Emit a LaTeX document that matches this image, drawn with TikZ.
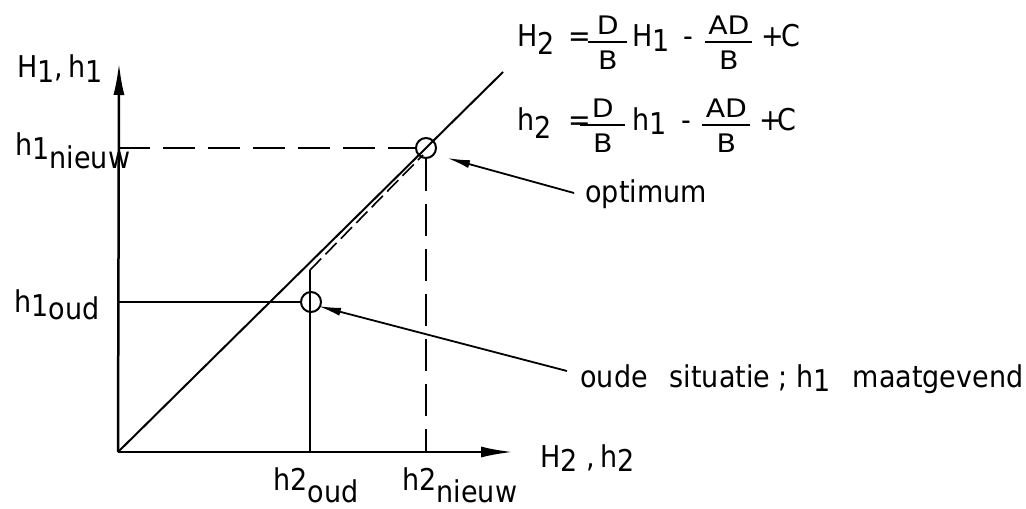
\documentclass[tikz,border=0pt]{standalone}
\usepackage{graphicx}
\usepackage{fontspec}
\setmainfont{DejaVu Sans}[FakeStretch=0.9]
\usetikzlibrary{arrows.meta}
\newcommand\lo[1]{\raisebox{-2pt}{#1}}
\newcommand\at[2]{\makebox[0pt][l]{\hspace*{#1}#2}}
% fraction: #1 bar width, #2 numerator, #3 denominator
\newcommand\fr[3]{\makebox[0pt][l]{%
  \raisebox{6pt}{\makebox[#1][c]{\scalebox{1.05}[0.85]{#2}}}}%
  \makebox[0pt][l]{\raisebox{2.2pt}{\rule{#1}{0.6pt}}}%
  \raisebox{-11pt}{\makebox[#1][c]{\scalebox{1.05}[0.85]{#3}}}}
\begin{document}
\begin{tikzpicture}[x=0.5pt,y=-0.5pt,
  lbl/.style={inner sep=0pt, anchor=base west, font=\fontsize{15}{18}\selectfont},
  axis/.style={line width=1.25pt, -{Latex[length=16pt,width=5.5pt]}},
  thinl/.style={line width=1pt},
  dsh/.style={line width=1pt, dash pattern=on 16pt off 6.5pt},
  dshs/.style={line width=0.8pt, dash pattern=on 8pt off 3pt},
  lead/.style={line width=0.9pt, -{Latex[length=11.5pt,width=4pt]}},
  ptc/.style={circle, draw, line width=1pt, minimum size=10pt, inner sep=0pt}]
\useasboundingbox (0,0) rectangle (1026,508);
\coordinate (O) at (118,452);
\coordinate (Ytip) at (119,63);
\coordinate (Xtip) at (513,452);
\coordinate (Dend) at (503,72);
\node[ptc] (opt) at (426,148) {};
\node[ptc] (old) at (311,302) {};
\coordinate (Yn) at (118,148);
\coordinate (Yo) at (118,302);
\coordinate (Xn) at (426,452);
\coordinate (Xo) at (310,452);
\coordinate (Xotop) at (310,270);
\coordinate (Dtop) at (423,155);
\coordinate (optL) at (574,193);
\coordinate (optT) at (447,158);
\coordinate (oldL) at (567,371);
\coordinate (oldT) at (318,306);
% axes and main line
\draw[axis] (O) -- (Ytip);
\draw[axis] (O) -- (Xtip);
\draw[thinl] (O) -- (Dend);
% dashed construction lines
\draw[dsh] (Yn) -- (opt.west);
\draw[dsh] (opt.south) -- (Xn);
\draw[dshs] (Xotop) -- (Dtop);
% old situation lines
\draw[thinl] (Yo) -- (old.west);
\draw[thinl] (Xo) -- (Xotop);
% leaders
\draw[lead] (optL) -- (optT);
\draw[lead] (oldL) -- (oldT);
% labels
\node[lbl] (yl) at (17,78) {H\lo{1},\,h\lo{1}};
\node[lbl] (h1n) at (15,155) {h\lo{1}\raisebox{-6.5pt}{nieuw}};
\node[lbl] (h1o) at (14,312) {h\lo{1}\raisebox{-3.5pt}{oud}};
\node[lbl] (h2o) at (273,490) {h2\raisebox{-6pt}{oud}};
\node[lbl] (h2n) at (402,490) {h2\raisebox{-6pt}{nieuw}};
\node[lbl] (xl) at (540,467) {H\lo{2} ,\,h\lo{2}};
\node[lbl] (eq1) at (517,47) {\at{0pt}{H\raisebox{-4pt}{2}}\at{25.5pt}{=}\at{35.5pt}{\fr{19.5pt}{D}{B}}\at{57.5pt}{H\lo{1}}\at{83pt}{-}\at{94pt}{\fr{23.5pt}{AD}{B}}\at{122pt}{+}\at{132pt}{C}\hspace*{141pt}};
\node[lbl] (eq2) at (517,130) {\at{0pt}{h\raisebox{-4pt}{2}}\at{25.5pt}{=}\at{31.5pt}{\fr{22.5pt}{D}{B}}\at{57.5pt}{h\lo{1}}\at{82pt}{-}\at{92.5pt}{\fr{24pt}{AD}{B}}\at{121pt}{+}\at{130pt}{C}\hspace*{139pt}};
\node[lbl] (optt) at (585,202) {optimum};
\node[lbl] (oldt) at (580,387) {oude\hspace{11pt}situatie ; h\lo{1}\hspace{11pt}maatgevend};
\end{tikzpicture}
\end{document}
